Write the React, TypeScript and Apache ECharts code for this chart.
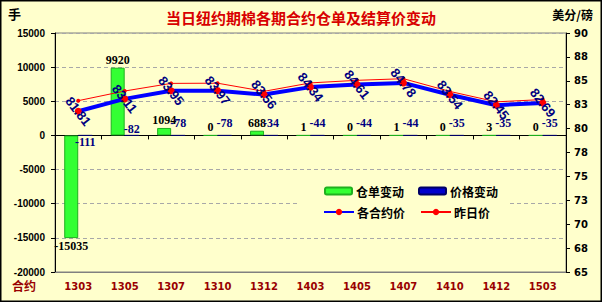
import React, { useEffect, useRef } from "react";
import * as echarts from "echarts";

const categories = ["1303", "1305", "1307", "1310", "1312", "1403", "1405", "1407", "1410", "1412", "1503"];
const warrantChange = [-15035, 9920, 1094, 0, 688, 1, 0, 1, 0, 3, 0];
const priceChange = [-1.11, -0.82, -0.78, -0.78, -0.34, -0.44, -0.44, -0.44, -0.35, -0.35, -0.35];
const priceChangeLabels = ["-111", "-82", "-78", "-78", "-34", "-44", "-44", "-44", "-35", "-35", "-35"];
const settlePrice = [81.81, 83.11, 83.95, 83.97, 83.56, 84.34, 84.61, 84.78, 83.54, 82.45, 82.69];
const prevPrice = [82.92, 83.93, 84.73, 84.75, 83.9, 84.78, 85.05, 85.22, 83.89, 82.8, 83.04];

const leftAxis = { min: -20000, max: 15000, interval: 5000 };
const rightAxis = { min: 65, max: 90, interval: 2.5 };

const titleText = "当日纽约期棉各期合约仓单及结算价变动";
const leftUnit = "手";
const rightUnit = "美分/磅";
const catName = "合约";

const BG = "#FFFFCC";
const CJK = "Noto Sans CJK SC";

export default function App() {
  const ref = useRef<HTMLDivElement>(null);
  useEffect(() => {
    document.body.style.margin = "0";
    const chart = echarts.init(ref.current!, null, { renderer: "svg" });
    const option: any = {
      animation: false,
      backgroundColor: BG,
      title: {
        text: titleText,
        left: "center",
        top: 5,
        textStyle: { color: "#D80000", fontSize: 15, fontWeight: "bold", fontFamily: CJK },
      },
      graphic: [
        {
          type: "rect",
          shape: { x: 0.75, y: 0.75, width: 600.5, height: 300.5 },
          style: { fill: "none", stroke: "#000", lineWidth: 1.5 },
          silent: true,
        },
        {
          type: "text",
          left: 8,
          top: 7,
          style: { text: leftUnit, fill: "#000", font: `bold 13px "${CJK}"` },
        },
        {
          type: "text",
          right: 9,
          top: 8,
          style: { text: rightUnit, fill: "#000", font: `bold 12px "${CJK}"` },
        },
        {
          type: "text",
          left: 12,
          top: 279,
          style: { text: catName, fill: "#990000", font: `bold 12px "${CJK}"` },
        },
      ],
      legend: [
        {
          data: ["仓单变动", "价格变动"],
          left: 324,
          top: 185,
          padding: 0,
          itemWidth: 27,
          itemHeight: 7,
          itemGap: 14,
          selectedMode: false,
          textStyle: { fontSize: 12, fontWeight: "bold", color: "#000", fontFamily: CJK, padding: [0, 0, 0, -1] },
        },
        {
          data: ["各合约价", "昨日价"],
          left: 300,
          top: 198,
          padding: [8, 20, 8, 23],
          backgroundColor: BG,
          itemWidth: 30,
          itemHeight: 8,
          itemGap: 15,
          selectedMode: false,
          textStyle: { fontSize: 12, fontWeight: "bold", color: "#000", fontFamily: CJK, padding: [0, 0, 0, -2] },
        },
      ],
      grid: {
        left: 55,
        right: 36,
        top: 33,
        bottom: 30,
        show: true,
        borderColor: "#808080",
        borderWidth: 1,
        backgroundColor: BG,
      },
      xAxis: [
        {
          type: "category",
          data: categories,
          position: "bottom",
          axisLine: { show: true, onZero: false, lineStyle: { color: "#808080" } },
          axisTick: { show: false },
          axisLabel: {
            color: "#990000",
            fontWeight: "bold",
            fontSize: 10,
            fontFamily: "DejaVu Sans",
            margin: 9,
          },
          splitLine: { show: false },
        },
        {
          type: "category",
          data: categories,
          position: "bottom",
          axisLine: { show: true, onZero: true, onZeroAxisIndex: 0, lineStyle: { color: "#000" } },
          axisTick: { show: true, length: 4, inside: false, lineStyle: { color: "#000" } },
          axisLabel: { show: false },
          splitLine: { show: false },
        },
      ],
      yAxis: [
        {
          type: "value",
          position: "left",
          min: leftAxis.min,
          max: leftAxis.max,
          interval: leftAxis.interval,
          axisLine: { show: true, onZero: false, lineStyle: { color: "#000" } },
          axisTick: { show: true, length: 4, lineStyle: { color: "#000" } },
          axisLabel: {
            formatter: (v: number) => String(v),
            color: "#000",
            fontWeight: "bold",
            fontSize: 10,
            fontFamily: "Liberation Sans",
            margin: 10,
          },
          splitLine: { show: true, lineStyle: { color: "#A8A8A8", type: [4, 3] } },
        },
        {
          type: "value",
          position: "right",
          min: rightAxis.min,
          max: rightAxis.max,
          interval: rightAxis.interval,
          axisLine: { show: true, onZero: false, lineStyle: { color: "#000" } },
          axisTick: { show: true, length: 4, lineStyle: { color: "#000" } },
          axisLabel: {
            formatter: (v: number) => String(Math.round(v)),
            color: "#000",
            fontWeight: "bold",
            fontSize: 10,
            fontFamily: "DejaVu Sans",
            margin: 8,
          },
          splitLine: { show: false },
        },
      ],
      series: [
        {
          name: "仓单变动",
          type: "bar",
          xAxisIndex: 0,
          yAxisIndex: 0,
          barWidth: 14,
          barGap: "0%",
          data: warrantChange.map((v) => ({
            value: v,
            label: { position: v < 0 ? "bottom" : "top" },
          })),
          itemStyle: { color: "#33FF33", borderColor: "#1FB01F", borderWidth: 1 },
          label: {
            show: true,
            distance: 2,
            color: "#000",
            fontWeight: "bold",
            fontSize: 12,
            fontFamily: "Liberation Serif",
            formatter: (p: any) => String(p.value),
          },
          z: 2,
        },
        {
          name: "价格变动",
          type: "bar",
          xAxisIndex: 0,
          yAxisIndex: 0,
          barWidth: 14,
          barGap: "0%",
          data: priceChange.map((v, i) => ({
            value: v,
            label:
              i === 0
                ? { position: "bottom", distance: 0 }
                : i === 1
                ? { position: "top", distance: 0 }
                : { position: "top", distance: 6 },
          })),
          itemStyle: { color: "#0000CC", borderColor: "#000066", borderWidth: 1 },
          label: {
            show: true,
            color: "#000080",
            fontWeight: "bold",
            fontSize: 12,
            fontFamily: "Liberation Serif",
            formatter: (p: any) => priceChangeLabels[p.dataIndex],
          },
          z: 2,
        },
        {
          name: "昨日价",
          type: "line",
          xAxisIndex: 0,
          yAxisIndex: 1,
          data: prevPrice,
          symbol: "circle",
          symbolSize: 4,
          showAllSymbol: true,
          lineStyle: { color: "#FF0000", width: 1 },
          itemStyle: { color: "#FF0000" },
          z: 3,
        },
        {
          name: "各合约价",
          type: "line",
          xAxisIndex: 0,
          yAxisIndex: 1,
          data: settlePrice,
          symbol: "circle",
          symbolSize: 7,
          showAllSymbol: true,
          lineStyle: { color: "#0000FF", width: 4 },
          itemStyle: { color: "#FF0000" },
          label: {
            show: true,
            position: "inside",
            rotate: -52,
            color: "#000080",
            fontWeight: "bold",
            fontSize: 13,
            fontFamily: "Liberation Sans",
            formatter: (p: any) => Number(p.value).toFixed(2),
          },
          z: 4,
        },
      ],
    };
    chart.setOption(option);
    return () => chart.dispose();
  }, []);
  return <div ref={ref} style={{ width: 602, height: 302 }} />;
}
